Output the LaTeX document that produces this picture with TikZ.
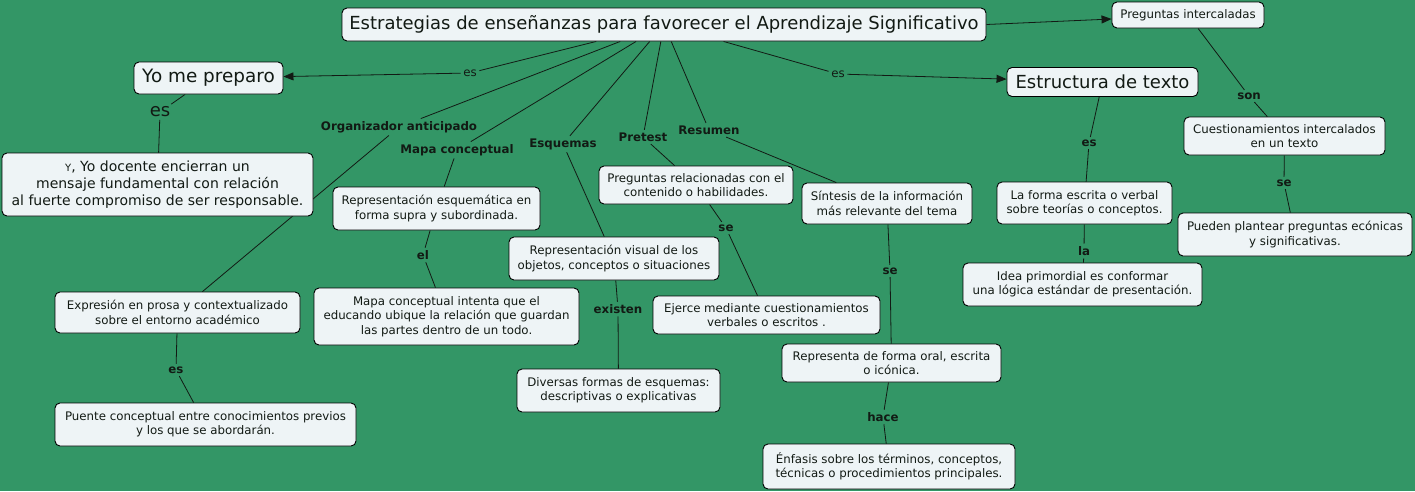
\documentclass[tikz,border=0pt]{standalone}
\usepackage{fontspec}
\setmainfont{DejaVu Sans}
\usepackage{xcolor}
\usetikzlibrary{arrows.meta, backgrounds}

\definecolor{mapgreen}{RGB}{51,150,102}
\definecolor{boxfill}{RGB}{238,244,246}
\definecolor{inkdark}{RGB}{18,26,20}

\newcommand{\txtsmall}{\fontsize{11.8}{14.3}\selectfont}
\newcommand{\txtbig}{\fontsize{18}{22}\selectfont}

\begin{document}
\begin{tikzpicture}[x=1pt, y=-1pt, >={Triangle[length=10pt,width=8pt]},
  concept/.style={rectangle, rounded corners=5pt, draw=black, fill=boxfill, line width=0.9pt, align=center, text=inkdark, inner sep=0pt, font=\txtsmall},
  linkword/.style={font=\bfseries\fontsize{11.8}{14}\selectfont, text=inkdark, inner sep=2.5pt},
  plainword/.style={font=\txtsmall, text=inkdark, inner sep=2.5pt},
  link/.style={draw=inkdark, line width=0.8pt}]

\useasboundingbox (0,0) rectangle (1415,491);

% Main concept
\node[concept, minimum width=644pt, minimum height=33pt, font=\txtbig] (title) at (664,24.5) {Estrategias de enseñanzas para favorecer el Aprendizaje Significativo};

% Yo me preparo
\node[plainword] (esYo) at (470,73) {es};
\node[concept, minimum width=149pt, minimum height=32pt, font=\fontsize{18.4}{22}\selectfont] (prep) at (208.5,78) {Yo me preparo};
\node[plainword, font=\txtbig] (esPrep) at (160,112) {es};
\node[concept, minimum width=311pt, minimum height=63pt, font=\fontsize{14}{17}\selectfont] (docente) at (157.5,184.5) {{\fontsize{10}{12}\selectfont Y}, Yo docente encierran un\\mensaje fundamental con relación\\al fuerte compromiso de ser responsable.};

% Organizador anticipado
\node[linkword] (organiz) at (399,127) {Organizador anticipado};
\node[concept, minimum width=245pt, minimum height=41pt] (prosa) at (177.5,312.5) {Expresión en prosa y contextualizado\\sobre el entorno académico};
\node[linkword] (esProsa) at (176,370) {es};
\node[concept, minimum width=301pt, minimum height=43pt] (puente) at (205.5,424.5) {Puente conceptual entre conocimientos previos\\y los que se abordarán.};

% Mapa conceptual
\node[linkword] (mapa) at (457,150) {Mapa conceptual};
\node[concept, minimum width=207pt, minimum height=43pt] (esquematica) at (436.5,208.5) {Representación esquemática en\\forma supra y subordinada.};
\node[linkword] (elMapa) at (423,255) {el};
\node[concept, minimum width=265pt, minimum height=57pt] (intenta) at (446.5,316.5) {Mapa conceptual intenta que el\\educando ubique la relación que guardan\\las partes dentro de un todo.};

% Esquemas
\node[linkword] (esquemas) at (563,144) {Esquemas};
\node[concept, minimum width=210pt, minimum height=43pt] (visual) at (614,258.5) {Representación visual de los\\objetos, conceptos o situaciones};
\node[linkword] (existen) at (618,309) {existen};
\node[concept, minimum width=203pt, minimum height=43pt] (diversas) at (618.5,390.5) {Diversas formas de esquemas:\\descriptivas o explicativas};

% Pretest
\node[linkword] (pretest) at (643,137) {Pretest};
\node[concept, minimum width=194pt, minimum height=38pt] (relacionadas) at (696,185) {Preguntas relacionadas con el\\contenido o habilidades.};
\node[linkword] (sePre) at (726,228) {se};
\node[concept, minimum width=227pt, minimum height=38pt] (ejerce) at (766.5,315) {Ejerce mediante cuestionamientos\\verbales o escritos .};

% Resumen
\node[linkword] (resumen) at (709,130) {Resumen};
\node[concept, minimum width=170pt, minimum height=41pt] (sintesis) at (887,203.5) {Síntesis de la información\\más relevante del tema};
\node[linkword] (seRes) at (890,271) {se};
\node[concept, minimum width=219pt, minimum height=38pt] (representa) at (891.5,363) {Representa de forma oral, escrita\\o icónica.};
\node[linkword] (hace) at (883,417) {hace};
\node[concept, minimum width=252pt, minimum height=45pt] (enfasis) at (889,466.5) {Énfasis sobre los términos, conceptos,\\técnicas o procedimientos principales.};

% Estructura de texto
\node[plainword] (esEst) at (838,74) {es};
\node[concept, minimum width=191pt, minimum height=29pt, font=\txtbig] (estructura) at (1102.5,82) {Estructura de texto};
\node[linkword] (esForma) at (1089,143) {es};
\node[concept, minimum width=175pt, minimum height=42pt] (forma) at (1084.5,203) {La forma escrita o verbal\\sobre teorías o conceptos.};
\node[linkword] (laIdea) at (1084,251) {la};
\node[concept, minimum width=239pt, minimum height=43pt] (idea) at (1082.5,284.5) {Idea primordial es conformar\\una lógica estándar de presentación.};

% Preguntas intercaladas
\node[concept, minimum width=152pt, minimum height=26pt] (intercaladas) at (1188,15) {Preguntas intercaladas};
\node[linkword] (son) at (1249,96) {son};
\node[concept, minimum width=201pt, minimum height=38pt] (cuestion) at (1284.5,136) {Cuestionamientos intercalados\\en un texto};
\node[linkword] (seCues) at (1284,183) {se};
\node[concept, minimum width=234pt, minimum height=43pt] (pueden) at (1295,234.5) {Pueden plantear preguntas ecónicas\\y significativas.};

% Connections (behind the boxes)
\begin{scope}[on background layer]
\fill[mapgreen] (0,0) rectangle (1415,491);

\draw[link] (title) -- (esYo);
\draw[link,->] (esYo) -- (prep);
\draw[link] (prep) -- (esPrep);
\draw[link] (esPrep) -- (docente);

\draw[link] (title) -- (organiz);
\draw[link] (organiz) -- (prosa);
\draw[link] (prosa) -- (esProsa);
\draw[link] (esProsa) -- (puente);

\draw[link] (title) -- (mapa);
\draw[link] (mapa) -- (esquematica);
\draw[link] (esquematica) -- (elMapa);
\draw[link] (elMapa) -- (intenta);

\draw[link] (title) -- (esquemas);
\draw[link] (esquemas) -- (visual);
\draw[link] (visual) -- (existen);
\draw[link] (existen) -- (diversas);

\draw[link] (title) -- (pretest);
\draw[link] (pretest) -- (relacionadas);
\draw[link] (relacionadas) -- (sePre);
\draw[link] (sePre) -- (ejerce);

\draw[link] (title) -- (resumen);
\draw[link] (resumen) -- (sintesis);
\draw[link] (sintesis) -- (seRes);
\draw[link] (seRes) -- (representa);
\draw[link] (representa) -- (hace);
\draw[link] (hace) -- (enfasis);

\draw[link] (title) -- (esEst);
\draw[link,->] (esEst) -- (estructura);
\draw[link] (estructura) -- (esForma);
\draw[link] (esForma) -- (forma);
\draw[link] (forma) -- (laIdea);
\draw[link] (laIdea) -- (idea);

\draw[link,->] (title.east) -- ([yshift=-4pt]intercaladas.west);
\draw[link] (intercaladas) -- (son);
\draw[link] (son) -- (cuestion);
\draw[link] (cuestion) -- (seCues);
\draw[link] (seCues) -- (pueden);
\end{scope}

\end{tikzpicture}
\end{document}
